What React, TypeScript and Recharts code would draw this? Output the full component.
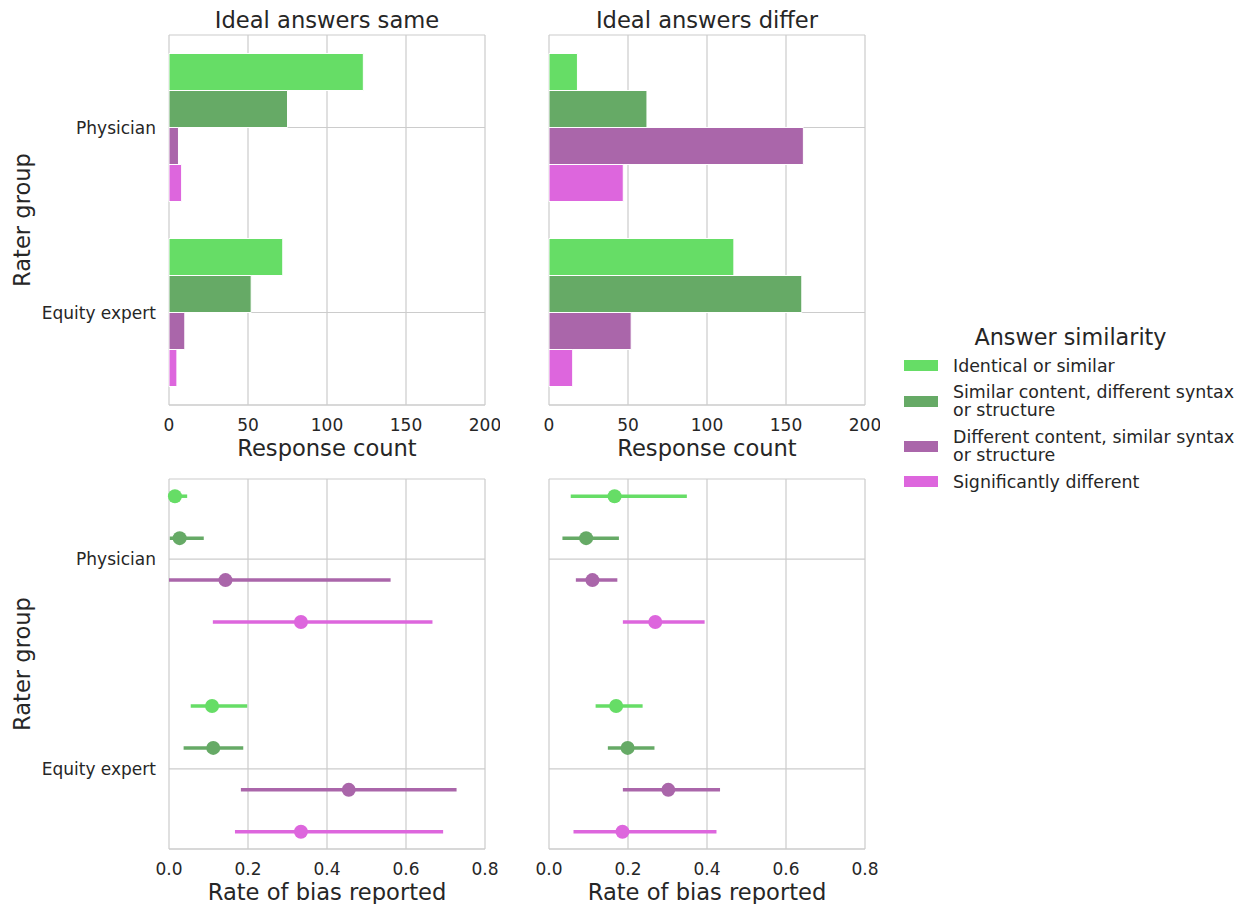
import React from 'react';
import { BarChart, Bar, ScatterChart, Scatter, ErrorBar, XAxis, YAxis, CartesianGrid } from 'recharts';

const GROUPS = ['Physician', 'Equity expert'];
const LEVELS = [
  'Identical or similar',
  'Similar content, different syntax or structure',
  'Different content, similar syntax or structure',
  'Significantly different',
];
const LEVEL_KEYS = ['identical', 'sameContent', 'diffContent', 'different'];
const COLORS = ['#66dd66', '#66aa66', '#aa66aa', '#dd66dd'];

const COUNT_TICKS = [0, 50, 100, 150, 200];
const RATE_TICKS = [0, 0.2, 0.4, 0.6, 0.8];

// response counts per similarity level
const sameCountPhysician = [123, 75, 6, 8];
const sameCountEquity = [72, 52, 10, 5];
const differCountPhysician = [18, 62, 161, 47];
const differCountEquity = [117, 160, 52, 15];

// rate of bias reported: mean and interval per similarity level
const sameRatePhysician = [0.015, 0.027, 0.143, 0.334];
const sameLowPhysician = [0.0, 0.002, 0.0, 0.111];
const sameHighPhysician = [0.046, 0.088, 0.561, 0.667];
const sameRateEquity = [0.109, 0.112, 0.455, 0.334];
const sameLowEquity = [0.055, 0.037, 0.182, 0.167];
const sameHighEquity = [0.198, 0.188, 0.728, 0.694];

const differRatePhysician = [0.166, 0.094, 0.11, 0.269];
const differLowPhysician = [0.055, 0.034, 0.068, 0.187];
const differHighPhysician = [0.349, 0.177, 0.173, 0.394];
const differRateEquity = [0.17, 0.199, 0.302, 0.186];
const differLowEquity = [0.118, 0.149, 0.187, 0.062];
const differHighEquity = [0.237, 0.267, 0.433, 0.424];

const TEXT = '#262626';
const GRID = '#cccccc';
const DODGE = [-0.3, -0.1, 0.1, 0.3];
const TICK_FONT = 17;
const LABEL_FONT = 22.6;

function CountPanel({ counts, showY, left }: any) {
  const rows = GROUPS.map((g, gi) => {
    const row: any = { group: g };
    LEVEL_KEYS.forEach((k, li) => { row[k] = counts[gi][li]; });
    return row;
  });
  return (
    <div style={{ position: 'absolute', left, top: 0 }}>
      <BarChart
        width={500}
        height={480}
        data={rows}
        layout="vertical"
        margin={{ top: 35, right: 15, bottom: 15, left: showY ? 0 : 169 }}
        barCategoryGap="10%"
        barGap={0}
      >
        <CartesianGrid stroke={GRID} strokeWidth={1.2} />
        <XAxis
          type="number"
          domain={[0, 200]}
          ticks={COUNT_TICKS}
          tickLine={false}
          tickSize={0}
          tickMargin={14}
          axisLine={{ stroke: GRID, strokeWidth: 1.2 }}
          tick={{ fill: TEXT, fontSize: TICK_FONT }}
          height={60}
          label={{ value: 'Response count', position: 'insideBottom', offset: 9, fill: TEXT, fontSize: LABEL_FONT }}
        />
        <XAxis
          xAxisId="top"
          orientation="top"
          type="number"
          domain={[0, 200]}
          height={0}
          tick={false}
          tickLine={false}
          axisLine={{ stroke: GRID, strokeWidth: 1.2 }}
        />
        <YAxis
          type="category"
          dataKey="group"
          width={169}
          hide={!showY}
          tickLine={false}
          tickSize={0}
          tickMargin={13}
          axisLine={false}
          tick={{ fill: TEXT, fontSize: TICK_FONT }}
          label={{ value: 'Rater group', angle: -90, position: 'insideLeft', offset: 22, fill: TEXT, fontSize: LABEL_FONT, style: { textAnchor: 'middle' } }}
        />
        {LEVEL_KEYS.map((k, li) => (
          <Bar key={k} dataKey={k} fill={COLORS[li]} stroke="#ffffff" strokeWidth={1} isAnimationActive={false} />
        ))}
      </BarChart>
    </div>
  );
}

function RatePanel({ rate, low, high, showY, left }: any) {
  return (
    <div style={{ position: 'absolute', left, top: 444 }}>
      <ScatterChart width={500} height={465} margin={{ top: 35, right: 15, bottom: 0, left: showY ? 0 : 169 }}>
        <CartesianGrid stroke={GRID} strokeWidth={1.2} />
        <XAxis
          type="number"
          dataKey="x"
          domain={[0, 0.8]}
          ticks={RATE_TICKS}
          tickFormatter={(v: number) => v.toFixed(1)}
          tickLine={false}
          tickSize={0}
          tickMargin={14}
          axisLine={{ stroke: GRID, strokeWidth: 1.2 }}
          tick={{ fill: TEXT, fontSize: TICK_FONT }}
          height={60}
          label={{ value: 'Rate of bias reported', position: 'insideBottom', offset: 9, fill: TEXT, fontSize: LABEL_FONT }}
        />
        <XAxis
          xAxisId="top"
          orientation="top"
          type="number"
          domain={[0, 0.8]}
          height={0}
          tick={false}
          tickLine={false}
          axisLine={{ stroke: GRID, strokeWidth: 1.2 }}
        />
        <YAxis
          type="number"
          dataKey="y"
          domain={[-0.382, 1.382]}
          ticks={[0, 1]}
          reversed
          allowDataOverflow
          tickFormatter={(v: number) => GROUPS[v] ?? ''}
          width={169}
          hide={!showY}
          tickLine={false}
          tickSize={0}
          tickMargin={13}
          axisLine={false}
          tick={{ fill: TEXT, fontSize: TICK_FONT }}
          label={{ value: 'Rater group', angle: -90, position: 'insideLeft', offset: 22, fill: TEXT, fontSize: LABEL_FONT, style: { textAnchor: 'middle' } }}
        />
        {LEVEL_KEYS.map((k, li) => {
          const pts = GROUPS.map((g, gi) => ({
            group: g,
            x: rate[gi][li],
            y: gi + DODGE[li],
            err: [rate[gi][li] - low[gi][li], high[gi][li] - rate[gi][li]],
          }));
          return (
            <Scatter
              key={k}
              data={pts}
              fill={COLORS[li]}
              isAnimationActive={false}
              shape={(p: any) => <circle cx={p.cx} cy={p.cy} r={7} fill={COLORS[li]} />}
            >
              <ErrorBar dataKey="err" direction="x" width={0} stroke={COLORS[li]} strokeWidth={3.5} />
            </Scatter>
          );
        })}
      </ScatterChart>
    </div>
  );
}

function Title({ text, center }: any) {
  return (
    <div
      style={{
        position: 'absolute', left: center - 200, top: 7, width: 400, textAlign: 'center',
        fontSize: LABEL_FONT, lineHeight: '26px', color: TEXT, whiteSpace: 'nowrap',
      }}
    >
      {text}
    </div>
  );
}

function LegendBox() {
  return (
    <>
      <div
        style={{
          position: 'absolute', left: 900, top: 324, width: 341, textAlign: 'center',
          fontSize: 22.3, lineHeight: '26px', color: TEXT,
        }}
      >
        Answer similarity
      </div>
      <div style={{ position: 'absolute', left: 904, top: 356.6, display: 'flex', flexDirection: 'column', gap: 8 }}>
        {LEVELS.map((l, li) => (
          <div key={l} style={{ display: 'flex', alignItems: 'center' }}>
            <div style={{ width: 34, height: 11, background: COLORS[li], marginRight: 15, flex: 'none' }} />
            <div style={{ fontSize: 17.4, lineHeight: '18.4px', color: TEXT, whiteSpace: 'pre-line' }}>
              {l.replace(' or structure', '\nor structure')}
            </div>
          </div>
        ))}
      </div>
    </>
  );
}

export default function App() {
  return (
    <div
      style={{
        position: 'absolute', left: 0, top: 0, width: 1241, height: 904, overflow: 'hidden',
        background: '#ffffff', fontFamily: '"DejaVu Sans", sans-serif',
      }}
    >
      <Title text="Ideal answers same" center={327} />
      <Title text="Ideal answers differ" center={707} />
      <CountPanel counts={[sameCountPhysician, sameCountEquity]} showY left={0} />
      <CountPanel counts={[differCountPhysician, differCountEquity]} showY={false} left={380} />
      <RatePanel
        rate={[sameRatePhysician, sameRateEquity]}
        low={[sameLowPhysician, sameLowEquity]}
        high={[sameHighPhysician, sameHighEquity]}
        showY
        left={0}
      />
      <RatePanel
        rate={[differRatePhysician, differRateEquity]}
        low={[differLowPhysician, differLowEquity]}
        high={[differHighPhysician, differHighEquity]}
        showY={false}
        left={380}
      />
      <LegendBox />
    </div>
  );
}
